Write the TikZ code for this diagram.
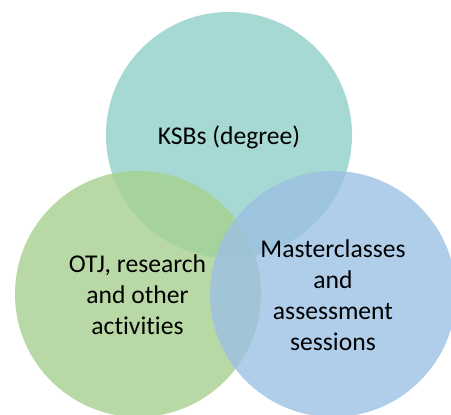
\documentclass[tikz,border=0pt]{standalone}
\usepackage{fontspec}
\setmainfont{Carlito}[Ligatures={NoCommon}]
\definecolor{tealc}{RGB}{144,208,200}
\definecolor{greenc}{RGB}{166,208,142}
\definecolor{bluec}{RGB}{156,193,228}
\tikzset{
  venn/.style={circle, minimum size=246pt, inner sep=0pt, fill opacity=0.8, draw=none},
  lbl/.style={align=center, font=\fontsize{25.6}{31}\selectfont, text=black, inner sep=0pt}
}
\begin{document}
\begin{tikzpicture}[x=1pt,y=1pt]
\useasboundingbox (0,0) rectangle (451,415);
\begin{scope}
\clip (0,0) rectangle (451,415);
\node[venn, fill=tealc] (ksb) at (229,280) {};
\node[venn, fill=greenc] (otj) at (138,121) {};
\node[venn, fill=bluec] (mc) at (333,121) {};
\end{scope}
\node[lbl] (t1) at (229,278) {KSBs (degree)};
\node[lbl] (t2) at (137.5,120) {OTJ, research\\and other\\activities};
\node[lbl] (t3) at (333,120) {Masterclasses\\and\\assessment\\sessions};
\end{tikzpicture}
\end{document}
